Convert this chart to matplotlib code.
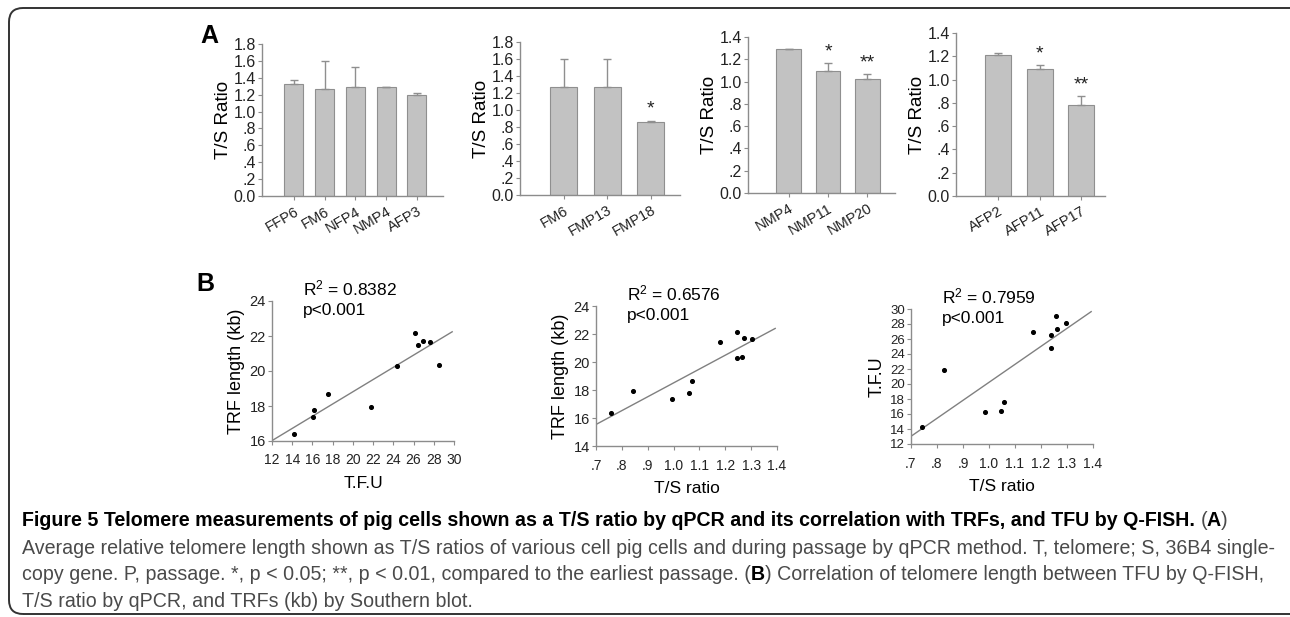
import numpy as np
import matplotlib
import matplotlib.pyplot as plt
import matplotlib.patches as patches
from matplotlib.ticker import FuncFormatter

plt.rcParams['font.family'] = ['Liberation Sans', 'DejaVu Sans']
plt.rcParams['mathtext.fontset'] = 'custom'
plt.rcParams['mathtext.rm'] = 'Liberation Sans'
plt.rcParams['mathtext.it'] = 'Liberation Sans:italic'

# ---- дані панелі A (T/S ratio, стовпчики) ----
a1_cats = ['FFP6', 'FM6', 'NFP4', 'NMP4', 'AFP3']
a1_vals = [1.33, 1.27, 1.29, 1.29, 1.20]
a1_errs = [0.04, 0.33, 0.24, 0.004, 0.023]
a1_stars = ['', '', '', '', '']

a2_cats = ['FM6', 'FMP13', 'FMP18']
a2_vals = [1.27, 1.27, 0.86]
a2_errs = [0.33, 0.33, 0.015]
a2_stars = ['', '', '*']

a3_cats = ['NMP4', 'NMP11', 'NMP20']
a3_vals = [1.293, 1.095, 1.02]
a3_errs = [0.003, 0.07, 0.045]
a3_stars = ['', '*', '**']

a4_cats = ['AFP2', 'AFP11', 'AFP17']
a4_vals = [1.21, 1.09, 0.78]
a4_errs = [0.02, 0.034, 0.075]
a4_stars = ['', '*', '**']

# ---- дані панелі B (кореляції) ----
b1_tfu = [14.2, 16.1, 16.2, 17.5, 21.8, 24.35, 26.1, 26.4, 26.9, 27.6, 28.5]
b1_trf = [16.4, 17.39, 17.77, 18.67, 17.96, 20.30, 22.19, 21.49, 21.73, 21.64, 20.36]

b2_ts = [0.758, 0.842, 0.995, 1.058, 1.070, 1.178, 1.245, 1.271, 1.303, 1.245, 1.265]
b2_trf = [16.38, 17.95, 17.38, 17.76, 18.66, 21.45, 22.17, 21.74, 21.62, 20.31, 20.33]

b3_ts = [0.743, 0.828, 0.985, 1.047, 1.059, 1.168, 1.238, 1.238, 1.256, 1.262, 1.295]
b3_tfu = [14.28, 21.92, 16.29, 16.42, 17.59, 26.92, 26.57, 24.78, 29.06, 27.37, 28.09]

r2_texts = ['0.8382', '0.6576', '0.7959']

W, H = 1290, 617
fig = plt.figure(figsize=(W / 100, H / 100), dpi=100)
fig.patch.set_facecolor('white')

AXC = '#8c8c8c'


def ax_px(x0, x1, y0, y1):
    return fig.add_axes([x0 / W, 1 - y1 / H, (x1 - x0) / W, (y1 - y0) / H])


def dot_fmt(v, pos):
    v = round(v, 6)
    s = '%.1f' % v
    if 0 < v < 1:
        s = s[1:]
    return s


def style_axes(ax, fs):
    for s in ['top', 'right']:
        ax.spines[s].set_visible(False)
    for s in ['left', 'bottom']:
        ax.spines[s].set_color(AXC)
        ax.spines[s].set_linewidth(1.0)
    ax.tick_params(colors=AXC, labelcolor='#222222', labelsize=fs, length=3, width=0.8, pad=1.5)


def bar_panel(ax, cats, vals, errs, stars, ymax, xlim):
    x = np.arange(len(cats))
    ax.bar(x, vals, width=0.62, color='#c2c2c2', edgecolor='#8f8f8f', linewidth=0.8)
    ax.errorbar(x, vals, yerr=[np.zeros(len(errs)), errs], fmt='none', ecolor='#8f8f8f',
                elinewidth=1.0, capsize=3, capthick=1.0)
    for xi, v, e, st in zip(x, vals, errs, stars):
        if st:
            ax.annotate(st, (xi, v + e), xytext=(0, 2), textcoords='offset points',
                        ha='center', va='bottom', fontsize=14, color='#222222')
    ax.set_ylim(0, ymax)
    ax.set_xlim(*xlim)
    ax.set_yticks(np.arange(0, ymax + 0.001, 0.2))
    ax.yaxis.set_major_formatter(FuncFormatter(dot_fmt))
    ax.set_xticks(x)
    ax.set_xticklabels(cats, rotation=30, ha='right', rotation_mode='anchor')
    style_axes(ax, 11.5)
    ax.tick_params(axis='x', labelsize=10.5, pad=3)
    ax.set_ylabel('T/S Ratio', fontsize=13.5, labelpad=1)


a1 = ax_px(262, 443, 44, 196)
bar_panel(a1, a1_cats, a1_vals, a1_errs, a1_stars, 1.8, (-1.04, 4.85))
a2 = ax_px(520, 680, 42, 195)
bar_panel(a2, a2_cats, a2_vals, a2_errs, a2_stars, 1.8, (-1.0, 2.67))
a3 = ax_px(748, 895, 37, 193)
bar_panel(a3, a3_cats, a3_vals, a3_errs, a3_stars, 1.4, (-1.03, 2.7))
a4 = ax_px(956, 1105, 33, 196)
bar_panel(a4, a4_cats, a4_vals, a4_errs, a4_stars, 1.4, (-1.02, 2.57))


def scatter_panel(ax, x, y, xlim, ylim, xticks, yticks, xlabel, ylabel, r2, xfmt=None, yfs=10.5):
    ax.scatter(x, y, s=7, color='black', zorder=3)
    k, b = np.polyfit(x, y, 1)
    xs = np.array([xlim[0], xlim[1] - 0.01 * (xlim[1] - xlim[0])])
    ax.plot(xs, k * xs + b, color='#808080', lw=1.0)
    ax.set_xlim(*xlim)
    ax.set_ylim(*ylim)
    ax.set_xticks(xticks)
    ax.set_yticks(yticks)
    if xfmt:
        ax.xaxis.set_major_formatter(FuncFormatter(xfmt))
    style_axes(ax, 10.5)
    ax.tick_params(axis='y', labelsize=yfs)
    ax.tick_params(axis='x', labelsize=10, pad=6)
    ax.set_xlabel(xlabel, fontsize=12.5, labelpad=6)
    ax.set_ylabel(ylabel, fontsize=13, labelpad=3)
    ax.text(0.17, 1.09, 'R$^{2}$ = ' + r2, transform=ax.transAxes, fontsize=12.5, va='center')
    ax.text(0.17, 0.93, 'p<0.001', transform=ax.transAxes, fontsize=12.5, va='center')


b1 = ax_px(272, 454, 301, 441)
scatter_panel(b1, b1_tfu, b1_trf, (12, 30), (16, 24), np.arange(12, 31, 2), np.arange(16, 25, 2),
              'T.F.U', 'TRF length (kb)', r2_texts[0])
b2 = ax_px(596, 777, 306, 446)
scatter_panel(b2, b2_ts, b2_trf, (0.7, 1.4), (14, 24), np.arange(0.7, 1.41, 0.1), np.arange(14, 25, 2),
              'T/S ratio', 'TRF length (kb)', r2_texts[1], xfmt=dot_fmt)
b3 = ax_px(911, 1093, 309, 444)
scatter_panel(b3, b3_ts, b3_tfu, (0.7, 1.4), (12, 30), np.arange(0.7, 1.41, 0.1), np.arange(12, 31, 2),
              'T/S ratio', 'T.F.U', r2_texts[2], xfmt=dot_fmt, yfs=9.5)

# мітки панелей
fig.text(200 / W, 1 - 36 / H, 'A', fontsize=18, weight='bold', va='center')
fig.text(196 / W, 1 - 284 / H, 'B', fontsize=18, weight='bold', va='center')

# рамка
frame = patches.FancyBboxPatch((9, H - 614), 1320, 606, boxstyle='round,pad=0,rounding_size=14',
                               transform=None, fill=False, edgecolor='#333333', linewidth=1.4)
fig.patches.append(frame)

# підпис
renderer = fig.canvas.get_renderer()


def draw_runs(x, y, runs, fs):
    for txt, weight, color in runs:
        t = fig.text(x / W, 1 - y / H, txt, fontsize=fs, weight=weight, color=color, va='baseline')
        x += t.get_window_extent(renderer).width


CG = '#4a4a4a'
FS = 14.1
draw_runs(22, 526, [('Figure 5 Telomere measurements of pig cells shown as a T/S ratio by qPCR and its correlation with TRFs, and TFU by Q-FISH. ', 'bold', 'black'),
                    ('(', 'normal', CG), ('A', 'bold', 'black'), (')', 'normal', CG)], FS)
draw_runs(22, 554, [('Average relative telomere length shown as T/S ratios of various cell pig cells and during passage by qPCR method. T, telomere; S, 36B4 single-', 'normal', CG)], FS)
draw_runs(22, 580, [('copy gene. P, passage. *, p < 0.05; **, p < 0.01, compared to the earliest passage. (', 'normal', CG),
                    ('B', 'bold', 'black'), (') Correlation of telomere length between TFU by Q-FISH,', 'normal', CG)], FS)
draw_runs(22, 607, [('T/S ratio by qPCR, and TRFs (kb) by Southern blot.', 'normal', CG)], FS)

fig.savefig('out.png', dpi=100)
